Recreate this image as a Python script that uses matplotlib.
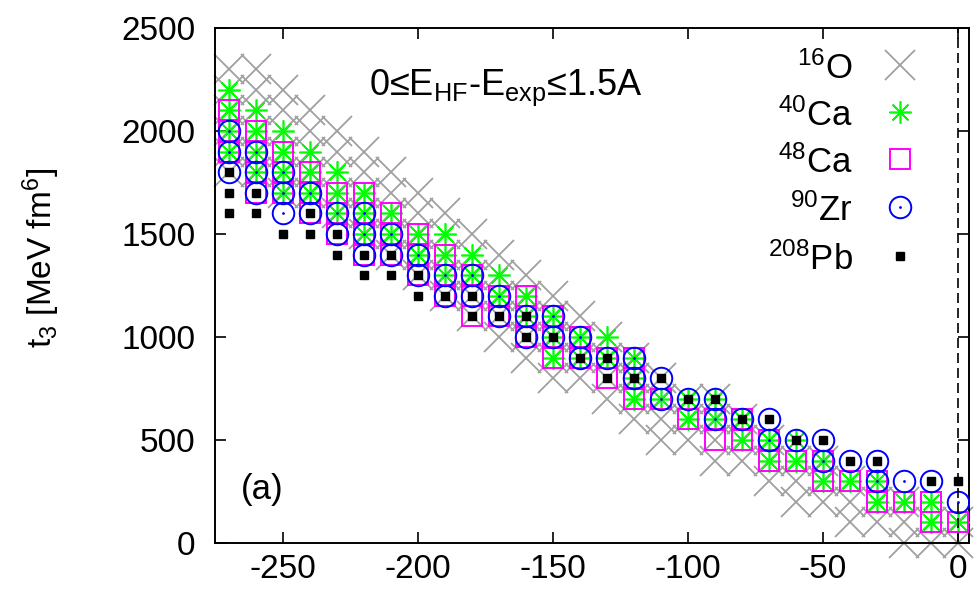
import numpy as np
import matplotlib
matplotlib.use("Agg")
import matplotlib.pyplot as plt

plt.rcParams['font.family'] = ['Liberation Sans', 'DejaVu Sans']
plt.rcParams['mathtext.default'] = 'regular'
plt.rcParams['axes.unicode_minus'] = False

# x positions (same grid for every nucleus)
x_vals = [-270, -260, -250, -240, -230, -220, -210, -200, -190, -180, -170, -160, -150, -140,
          -130, -120, -110, -100, -90, -80, -70, -60, -50, -40, -30, -20, -10, 0]

# allowed t3 ranges (lowest, highest) at each x, step 100; None = no point
o16_lo = [1800, 1800, 1700, 1700, 1600, 1500, 1400, 1300, 1200, 1100, 1000, 900, 800, 800,
          700, 600, 500, 500, 400, 400, 300, 200, 200, 100, 100, 0, 0, 0]
o16_hi = [2300, 2300, 2200, 2100, 2000, 1900, 1800, 1700, 1600, 1500, 1400, 1300, 1200, 1100,
          1000, 900, 800, 700, 700, 600, 500, 400, 400, 300, 200, 200, 100, 100]

ca40_lo = [1900, 1800, 1700, 1700, 1600, 1500, 1500, 1400, 1300, 1300, 1200, 1100, 900, 900,
           900, 700, 700, 600, 600, 500, 400, 400, 300, 300, 200, 200, 100, 100]
ca40_hi = [2200, 2100, 2000, 1900, 1800, 1700, 1600, 1500, 1500, 1400, 1300, 1200, 1100, 1000,
           1000, 900, 700, 700, 700, 600, 500, 500, 400, 300, 300, 200, 200, 100]

ca48_lo = [1900, 1700, 1700, 1600, 1500, 1400, 1400, 1300, 1200, 1100, 1100, 1000, 900, 900,
           800, 700, 700, 600, 500, 500, 400, 400, 300, 300, 200, 200, 100, 100]
ca48_hi = [2100, 2000, 1900, 1800, 1700, 1700, 1600, 1500, 1400, 1300, 1200, 1200, 1100, 1000,
           900, 900, 700, 600, 600, 600, 500, 400, 400, 300, 300, 200, 200, 100]

zr90_lo = [1800, 1700, 1600, 1600, 1500, 1400, 1400, 1300, 1200, 1200, 1100, 1000, 1000, 900,
           900, 800, 700, 700, 600, 600, 500, 500, 400, 400, 300, 300, 300, 200]
zr90_hi = [2000, 1900, 1800, 1700, 1600, 1600, 1500, 1400, 1300, 1300, 1200, 1100, 1100, 1000,
           900, 900, 800, 700, 700, 600, 600, 500, 500, 400, 400, 300, 300, 200]

pb208_lo = [1600, 1600, 1500, 1500, 1400, 1300, 1300, 1200, 1200, 1100, 1100, 1000, 1000, 900,
            800, 800, 800, 700, 700, 600, 600, 500, 500, 400, 400, None, 300, 300]
pb208_hi = [1800, 1700, 1500, 1600, 1500, 1400, 1400, 1300, 1200, 1200, 1100, 1100, 1000, 900,
            900, 800, 800, 700, 700, 600, 600, 500, 500, 400, 400, None, 300, 300]


def expand(lo, hi):
    px, py = [], []
    for x, a, b in zip(x_vals, lo, hi):
        if a is None:
            continue
        for y in range(a, b + 1, 100):
            px.append(x)
            py.append(y)
    return px, py


fig = plt.figure(figsize=(9.76, 5.95), dpi=100)
ax = fig.add_axes([0.2203, 0.0874, 0.7725, 0.8656])

asterisk = (8, 2, 0)   # + and x on top of each other
st_o = dict(marker='x', ms=22, mew=1.3, color='#a0a0a0')
st_ca40 = dict(marker=asterisk, ms=16, mew=1.2, color='#00ff00')
st_ca48 = dict(marker='s', ms=14, mew=1.4, mfc='none', mec='#ff00ff')
st_zr = dict(marker='o', ms=15.5, mew=1.4, mfc='none', mec='#0000ff')
st_pb = dict(marker='s', ms=6, color='black')

ox, oy = expand(o16_lo, o16_hi)
ax.plot(ox, oy, ls='none', clip_on=False, zorder=2, **st_o)
cx, cy = expand(ca40_lo, ca40_hi)
ax.plot(cx, cy, ls='none', zorder=3, **st_ca40)
sx, sy = expand(ca48_lo, ca48_hi)
ax.plot(sx, sy, ls='none', zorder=4, **st_ca48)
zx, zy = expand(zr90_lo, zr90_hi)
ax.plot(zx, zy, ls='none', zorder=5, **st_zr)
ax.plot(zx, zy, ls='none', marker='o', ms=2, mew=0, color='#0000ff', zorder=5)
px_, py_ = expand(pb208_lo, pb208_hi)
ax.plot(px_, py_, ls='none', zorder=6, **st_pb)

ax.axvline(0, color='black', ls=(0, (6, 3)), lw=1.2, zorder=7)

ax.set_xlim(-275, 4)
ax.set_ylim(0, 2500)
ax.set_xticks([-250, -200, -150, -100, -50, 0])
ax.set_yticks([0, 500, 1000, 1500, 2000, 2500])
ax.tick_params(direction='in', length=8, width=1.2, labelsize=24, top=True, right=True)
ax.tick_params(axis='y', pad=14)
ax.tick_params(axis='x', pad=8)
for s in ax.spines.values():
    s.set_linewidth(1.4)

fig.text(0.042, 0.566, 't$_3$ [MeV fm$^6$]', rotation=90, ha='center', va='center', fontsize=24)

ax.text(0.386, 0.870, '0≤E$_{HF}$-E$_{exp}$≤1.5A', transform=ax.transAxes,
        ha='center', va='baseline', fontsize=26)
ax.text(0.062, 0.085, '(a)', transform=ax.transAxes, ha='center', va='baseline', fontsize=25)

# key
labels = ['$^{16}$O', '$^{40}$Ca', '$^{48}$Ca', '$^{90}$Zr', '$^{208}$Pb']
rows = [0.928, 0.837, 0.746, 0.652, 0.557]
for lab, yy, st in zip(labels, rows, [st_o, st_ca40, st_ca48, st_zr, st_pb]):
    ax.text(0.846, yy - 0.027, lab, transform=ax.transAxes, ha='right', va='baseline', fontsize=25)
    ax.plot([0.9085], [yy], transform=ax.transAxes, ls='none', zorder=8, **st)
ax.plot([0.9085], [rows[3]], transform=ax.transAxes, ls='none', marker='o', ms=2, mew=0,
        color='#0000ff', zorder=8)

fig.savefig('out.png', dpi=100)
